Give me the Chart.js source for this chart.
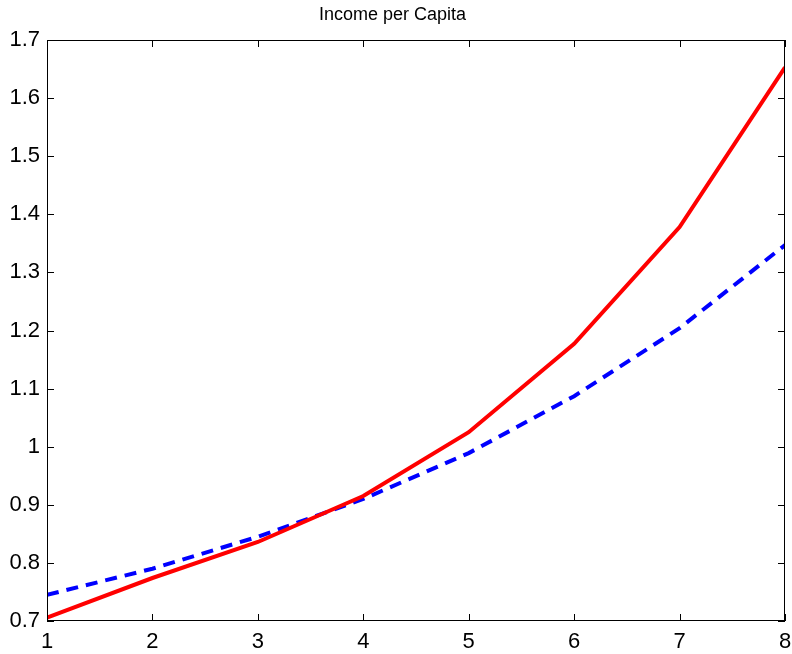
<!DOCTYPE html>
<html>
<head>
<meta charset="utf-8">
<script src="https://cdn.jsdelivr.net/npm/chart.js@4/dist/chart.umd.min.js"></script>
<style>
  html, body { margin: 0; padding: 0; background: #fff; }
  #wrap { width: 792px; height: 654px; }
</style>
</head>
<body>
<div id="wrap"><canvas id="incomeChart" width="792" height="654"></canvas></div>
<script>
// Data
const periods = [1, 2, 3, 4, 5, 6, 7, 8];
const solidSeries = [0.706, 0.774, 0.836, 0.915, 1.025, 1.177, 1.378, 1.653];
const dashedSeries = [0.745, 0.790, 0.845, 0.910, 0.989, 1.087, 1.204, 1.347];
const yTicks = [0.7, 0.8, 0.9, 1.0, 1.1, 1.2, 1.3, 1.4, 1.5, 1.6, 1.7];

const toPoints = vals => vals.map((v, i) => ({ x: periods[i], y: v }));

// Matlab-style box with inward ticks on every side
const boxTicks = {
    id: 'boxTicks',
    afterDraw(chart) {
        const ctx = chart.ctx;
        const a = chart.chartArea;
        const xs = chart.scales.x;
        const ys = chart.scales.y;
        const len = 7;
        ctx.save();
        ctx.strokeStyle = '#000';
        ctx.lineWidth = 1;
        ctx.strokeRect(a.left + 0.5, a.top + 0.5, a.right - a.left - 1, a.bottom - a.top - 1);
        ctx.beginPath();
        periods.forEach(p => {
            const px = Math.round(xs.getPixelForValue(p)) + 0.5;
            ctx.moveTo(px, a.bottom); ctx.lineTo(px, a.bottom - len);
            ctx.moveTo(px, a.top); ctx.lineTo(px, a.top + len);
        });
        yTicks.forEach(t => {
            const py = Math.round(ys.getPixelForValue(t)) + 0.5;
            ctx.moveTo(a.left, py); ctx.lineTo(a.left + len, py);
            ctx.moveTo(a.right, py); ctx.lineTo(a.right - len, py);
        });
        ctx.stroke();
        ctx.restore();
    }
};

const fontFamily = '"Liberation Sans", Arial, Helvetica, sans-serif';

new Chart(document.getElementById('incomeChart'), {
    type: 'line',
    data: {
        datasets: [
            {
                label: 'Income per Capita (solid)',
                data: toPoints(solidSeries),
                borderColor: '#ff0000',
                borderWidth: 4,
                pointRadius: 0,
                tension: 0,
                fill: false
            },
            {
                label: 'Income per Capita (dashed)',
                data: toPoints(dashedSeries),
                borderColor: '#0000ff',
                borderWidth: 4,
                borderDash: [12, 8],
                pointRadius: 0,
                tension: 0,
                fill: false
            }
        ]
    },
    options: {
        responsive: false,
        animation: false,
        devicePixelRatio: 1,
        layout: { padding: { left: 0, right: 7, top: 0, bottom: 0 } },
        plugins: {
            legend: { display: false },
            tooltip: { enabled: false },
            title: {
                display: true,
                text: 'Income per Capita',
                color: '#000',
                font: { family: fontFamily, size: 18, weight: 'normal' },
                padding: { top: 4, bottom: 14.4 }
            }
        },
        scales: {
            x: {
                type: 'linear',
                min: 1,
                max: 8,
                afterFit: s => { s.height = 33; s.paddingLeft = 0; s.paddingRight = 0; },
                afterBuildTicks: s => { s.ticks = periods.map(v => ({ value: v })); },
                grid: { display: false, drawTicks: false },
                border: { display: false },
                ticks: {
                    color: '#000',
                    padding: 8,
                    maxRotation: 0,
                    font: { family: fontFamily, size: 22 }
                }
            },
            y: {
                type: 'linear',
                min: 0.7,
                max: 1.7,
                afterFit: s => { s.width = 47; s.paddingTop = 0; s.paddingBottom = 0; },
                afterBuildTicks: s => { s.ticks = yTicks.map(v => ({ value: v })); },
                grid: { display: false, drawTicks: false },
                border: { display: false },
                ticks: {
                    color: '#000',
                    padding: 7,
                    font: { family: fontFamily, size: 22 },
                    callback: v => String(Math.round(v * 10) / 10)
                }
            }
        }
    },
    plugins: [boxTicks]
});
</script>
</body>
</html>
